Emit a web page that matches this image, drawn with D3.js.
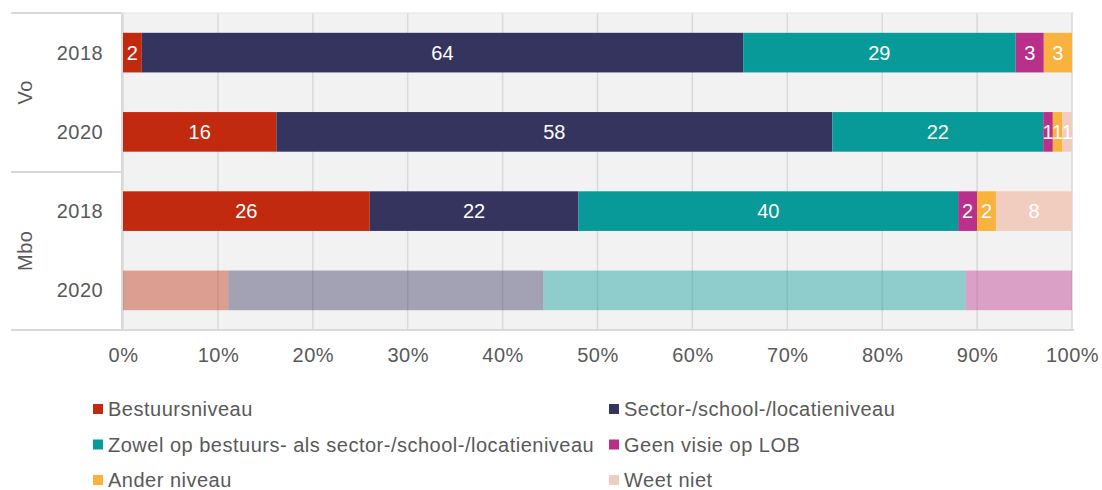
<!DOCTYPE html>
<html>
<head>
<meta charset="utf-8">
<script src="https://cdn.jsdelivr.net/npm/d3@7"></script>
<style>
  body { margin: 0; background: #fff; }
  text { font-family: "Liberation Sans", Arial, sans-serif; letter-spacing: 0.5px; }
</style>
</head>
<body>
<div id="chart"></div>
<script>
// rows (top to bottom)
var groups = ["Vo", "Vo", "Mbo", "Mbo"];
var years = ["2018", "2020", "2018", "2020"];
var rowKeys = ["Vo-2018", "Vo-2020", "Mbo-2018", "Mbo-2020"];
var showLabels = [true, true, true, false];
var faded = [false, false, false, true];

// series values per row (percentages, each row is stacked to 100%)
var seriesNames = ["Bestuursniveau", "Sector-/school-/locatieniveau",
  "Zowel op bestuurs- als sector-/school-/locatieniveau", "Geen visie op LOB",
  "Ander niveau", "Weet niet"];
var bestuurs = [2, 16, 26, 11.1];
var sector = [64, 58, 22, 33.2];
var zowel = [29, 22, 40, 44.5];
var geenVisie = [3, 1, 2, 11.2];
var ander = [3, 1, 2, 0];
var weetNiet = [0, 1, 8, 0];
var colors = ["#c12a0f", "#35345f", "#079a98", "#b9308b", "#f9b23d", "#f1cdbf"];

var xTicks = [0, 0.1, 0.2, 0.3, 0.4, 0.5, 0.6, 0.7, 0.8, 0.9, 1];

var allSeries = [bestuurs, sector, zowel, geenVisie, ander, weetNiet];

var W = 1102, H = 490, FS = 20;
var svg = d3.select("#chart").append("svg").attr("width", W).attr("height", H);
svg.append("rect").attr("width", W).attr("height", H).attr("fill", "#fff");

var plotTop = 13, plotBottom = 330;
var xScale = d3.scaleLinear().domain([0, 1]).range([123, 1072]);
var yScale = d3.scaleBand().domain(rowKeys).range([plotTop, plotBottom])
  .paddingInner(0.5).paddingOuter(0.25);

// plot background
svg.append("rect")
  .attr("x", xScale(0)).attr("y", plotTop)
  .attr("width", xScale(1) - xScale(0)).attr("height", plotBottom - plotTop)
  .attr("fill", "#f2f2f2");

// gridlines
svg.append("g").selectAll("line").data(xTicks).enter().append("line")
  .attr("x1", function(d) { return xScale(d); })
  .attr("x2", function(d) { return xScale(d); })
  .attr("y1", plotTop).attr("y2", plotBottom)
  .attr("stroke", "#d9d9d9").attr("stroke-width", 1.5);

// stack table
var table = rowKeys.map(function(k, i) {
  var total = d3.sum(allSeries, function(s) { return s[i]; });
  var row = { key: k };
  allSeries.forEach(function(s, j) { row["s" + j] = s[i] / total; });
  return row;
});
var stack = d3.stack().keys(allSeries.map(function(s, j) { return "s" + j; }));
var layers = stack(table);

layers.forEach(function(layer, j) {
  var g = svg.append("g");
  layer.forEach(function(seg, i) {
    if (seg[1] - seg[0] <= 0) return;
    var x0 = xScale(seg[0]), x1 = xScale(seg[1]);
    g.append("rect")
      .attr("x", x0).attr("y", yScale(rowKeys[i]))
      .attr("width", x1 - x0).attr("height", yScale.bandwidth())
      .attr("fill", colors[j])
      .attr("fill-opacity", faded[i] ? 0.42 : 1);
    if (showLabels[i]) {
      g.append("text")
        .attr("x", (x0 + x1) / 2)
        .attr("y", yScale(rowKeys[i]) + yScale.bandwidth() / 2)
        .attr("text-anchor", "middle").attr("dominant-baseline", "central")
        .attr("fill", "#fff").attr("font-size", FS)
        .style("letter-spacing", "0px")
        .text(allSeries[j][i]);
    }
  });
});

// frame lines
var lineColor = "#d9d9d9";
svg.append("line").attr("x1", 122).attr("x2", 122).attr("y1", plotTop).attr("y2", plotBottom)
  .attr("stroke", lineColor).attr("stroke-width", 2);
svg.append("line").attr("x1", 11).attr("x2", 122).attr("y1", plotTop).attr("y2", plotTop)
  .attr("stroke", lineColor).attr("stroke-width", 2);
svg.append("line").attr("x1", 11).attr("x2", 122).attr("y1", 172).attr("y2", 172)
  .attr("stroke", lineColor).attr("stroke-width", 2);
svg.append("line").attr("x1", 11).attr("x2", xScale(1) + 2).attr("y1", plotBottom).attr("y2", plotBottom)
  .attr("stroke", lineColor).attr("stroke-width", 2);
svg.append("line").attr("x1", 122).attr("x2", xScale(1) + 2).attr("y1", plotTop).attr("y2", plotTop)
  .attr("stroke", "#e3e3e3").attr("stroke-width", 1);

// x axis labels
var xAxis = d3.axisBottom(xScale).tickValues(xTicks).tickFormat(d3.format(".0%")).tickSize(0).tickPadding(18);
var xg = svg.append("g").attr("transform", "translate(0," + plotBottom + ")").call(xAxis);
xg.select(".domain").remove();
xg.selectAll("text").attr("font-size", FS).attr("fill", "#595959")
  .attr("font-family", "Liberation Sans, Arial, sans-serif");

// year labels
svg.append("g").selectAll("text").data(rowKeys).enter().append("text")
  .attr("x", 80)
  .attr("y", function(d) { return yScale(d) + yScale.bandwidth() / 2; })
  .attr("text-anchor", "middle").attr("dominant-baseline", "central")
  .attr("font-size", FS).attr("fill", "#595959")
  .text(function(d, i) { return years[i]; });

// group labels
var groupNames = ["Vo", "Mbo"];
groupNames.forEach(function(gname) {
  var keys = rowKeys.filter(function(k, i) { return groups[i] === gname; });
  var y0 = yScale(keys[0]) - yScale.step() * 0.25;
  var y1 = yScale(keys[keys.length - 1]) + yScale.bandwidth() + yScale.step() * 0.25;
  var cy = (y0 + y1) / 2;
  svg.append("text")
    .attr("transform", "translate(25," + cy + ") rotate(-90)")
    .attr("text-anchor", "middle").attr("dominant-baseline", "central")
    .attr("font-size", FS).attr("fill", "#595959")
    .text(gname);
});

// legend
var legX = [93, 609], legY = [409, 444.5, 480];
seriesNames.forEach(function(name, j) {
  var cx = legX[j % 2], cy = legY[Math.floor(j / 2)];
  svg.append("rect").attr("x", cx).attr("y", cy - 5).attr("width", 10).attr("height", 10)
    .attr("fill", colors[j]);
  svg.append("text").attr("x", cx + 15).attr("y", cy)
    .attr("dominant-baseline", "central")
    .attr("font-size", FS).attr("fill", "#595959")
    .text(name);
});
</script>
</body>
</html>
